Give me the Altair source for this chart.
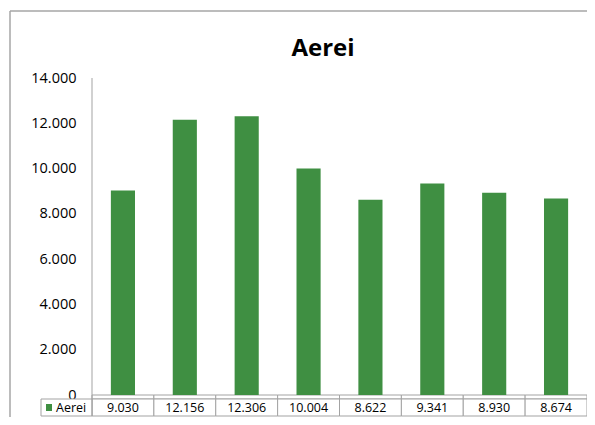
import altair as alt
import pandas as pd

# ---- data ----
categories = ["c1", "c2", "c3", "c4", "c5", "c6", "c7", "c8"]
values = [9030, 12156, 12306, 10004, 8622, 9341, 8930, 8674]
series_name = "Aerei"
title_text = "Aerei"
y_ticks = [0, 2000, 4000, 6000, 8000, 10000, 12000, 14000]

labels = [f"{v:,}".replace(",", ".") for v in values]
df = pd.DataFrame({"cat": categories, "value": values, "label": labels})
one = pd.DataFrame({"k": [0]})

GREEN = "#3f8f42"
GRID = "#a3a3a3"
FONT = "Open Sans"
W, H = 495, 317
ROW0 = H + 4      # top of data-table row
ROW1 = H + 21     # bottom of data-table row

xs = alt.Scale(domain=categories, paddingInner=0, paddingOuter=0)
X = alt.X("cat:N", scale=xs, axis=None)

base = alt.Chart(df)

bars = base.mark_bar(color=GREEN, width=alt.RelativeBandSize(0.39)).encode(
    x=X,
    y=alt.Y(
        "value:Q",
        scale=alt.Scale(domain=[0, 14000], nice=False),
        axis=alt.Axis(
            values=y_ticks,
            labelExpr="replace(format(datum.value, ','), ',', '.')",
            grid=False, domain=False, ticks=False,
            labelFont=FONT, labelFontSize=14.5, labelColor="#000000",
            labelPadding=16, title=None,
        ),
    ),
)

# small empty category row below the baseline (gives the tick-like separators)
cat_row = base.mark_rect(fill="white", stroke=GRID, strokeWidth=1).encode(
    x=X, y=alt.value(H), y2=alt.value(ROW0)
)
# data table cells
cells = base.mark_rect(fill="white", stroke=GRID, strokeWidth=1).encode(
    x=X, y=alt.value(ROW0), y2=alt.value(ROW1)
)
cell_text = base.mark_text(font=FONT, fontSize=12.5, color="#000000", baseline="middle").encode(
    x=X, y=alt.value((ROW0 + ROW1) / 2 + 0.5), text="label:N"
)

# legend cell
leg_cell = alt.Chart(one).mark_rect(fill="white", stroke=GRID, strokeWidth=1).encode(
    x=alt.value(-51), x2=alt.value(0), y=alt.value(ROW0), y2=alt.value(ROW1)
)
leg_sq = alt.Chart(one).mark_rect(color=GREEN).encode(
    x=alt.value(-46), x2=alt.value(-40), y=alt.value(ROW0 + 5), y2=alt.value(ROW1 - 5)
)
leg_txt = alt.Chart(one).mark_text(
    font=FONT, fontSize=12.5, color="#000000", align="left", baseline="middle", text=series_name
).encode(x=alt.value(-36), y=alt.value((ROW0 + ROW1) / 2 + 0.5))

# y axis line
y_line = alt.Chart(one).mark_rule(color=GRID, strokeWidth=1).encode(
    x=alt.value(0), y=alt.value(0), y2=alt.value(ROW1)
)

# outer chart border
border_l = alt.Chart(one).mark_rule(color="#a6a6a6", strokeWidth=1.5).encode(
    x=alt.value(-82), y=alt.value(-67), y2=alt.value(H + 40)
)
border_t = alt.Chart(one).mark_rule(color="#a6a6a6", strokeWidth=1.5).encode(
    x=alt.value(-82), x2=alt.value(W + 20), y=alt.value(-67)
)

title = alt.Chart(one).mark_text(
    font=FONT, fontSize=24, fontWeight="bold", color="#000000",
    align="center", baseline="alphabetic", text=title_text
).encode(x=alt.value(231), y=alt.value(-22))

chart = alt.layer(
    border_l, border_t, title, cat_row, cells, cell_text,
    leg_cell, leg_sq, leg_txt, bars, y_line
).properties(
    width=W, height=H,
    autosize=alt.AutoSizeParams(type="none"),
    padding={"left": 84, "top": 70, "right": 0, "bottom": 22},
).configure_view(stroke=None)

chart.save("out.html", embed_options={"renderer": "svg", "actions": False})
